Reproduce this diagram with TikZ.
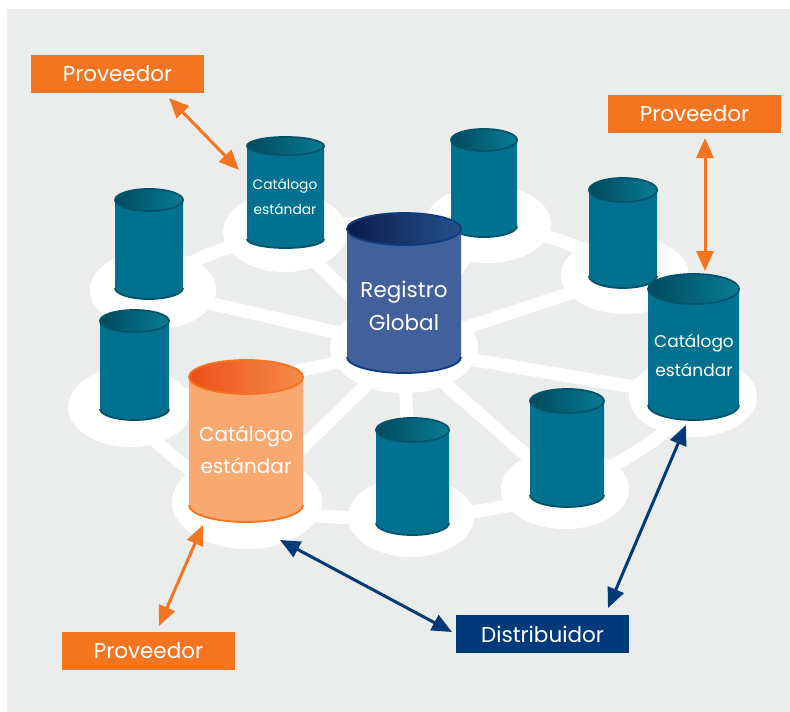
\documentclass[tikz,border=0pt]{standalone}
\usepackage{fontspec}
\setmainfont{Poppins}
\usetikzlibrary{arrows.meta}
\definecolor{bg}{HTML}{EBECEC}
\definecolor{orbox}{HTML}{F47521}
\definecolor{navy}{HTML}{003A78}
\definecolor{tealbody}{HTML}{00728F}
\definecolor{tealtl}{HTML}{004A5E}
\definecolor{tealtr}{HTML}{087C94}
\definecolor{tealedge}{HTML}{00546A}
\definecolor{regbody}{HTML}{42609A}
\definecolor{regtl}{HTML}{0A1C4A}
\definecolor{regtr}{HTML}{25518D}
\definecolor{regedge}{HTML}{0D3C7F}
\definecolor{orbody}{HTML}{F9A870}
\definecolor{ortl}{HTML}{EE4F1A}
\definecolor{ortr}{HTML}{F48C4A}
\definecolor{oredge}{HTML}{F47521}
% #1 x1, #2 x2, #3 top centre y, #4 bottom centre y, #5 ry, #6 body, #7 top left, #8 top right, #9 edge
\newcommand\dbcyl[9]{%
  \fill[#6] (#1,#3) -- (#1,#4) arc[start angle=180,end angle=0,x radius={(#2-#1)/2},y radius=#5] -- (#2,#3) -- cycle;
  \draw[#9,line width=1.8pt] (#1,#4) arc[start angle=180,end angle=0,x radius={(#2-#1)/2},y radius=#5];
  \draw[#9,line width=1.8pt,left color=#7,right color=#8] ({(#1+#2)/2},#3) ellipse[x radius={(#2-#1)/2},y radius=#5];
}
\begin{document}
\begin{tikzpicture}[x=1pt,y=-1pt,
  netline/.style={white,line width=13pt},
  disc/.style={fill=white},
  boxtext/.style={text=white,minimum width=173pt,minimum height=38pt,inner sep=0pt,font=\fontsize{21.5}{24}\selectfont},
  provbox/.style={boxtext,fill=orbox},
  distbox/.style={boxtext,fill=navy},
  cyltext/.style={text=white,align=center,inner sep=0pt},
  orarrow/.style={draw=orbox,line width=3pt,{Triangle[length=20pt,width=17pt]}-{Triangle[length=20pt,width=17pt]}},
  navarrow/.style={draw=navy,line width=3pt,{Triangle[length=20pt,width=17pt]}-{Triangle[length=20pt,width=17pt]}}
]
\useasboundingbox (0,0) rectangle (790,712);
\fill[bg] (7,9) rectangle (790,712);
% disc centres
\coordinate (d1) at (285,232);
\coordinate (d2) at (153,290);
\coordinate (d3) at (130,407);
\coordinate (d4) at (247,502);
\coordinate (d5) at (404,348);
\coordinate (d6) at (488,224);
\coordinate (d7) at (625,275);
\coordinate (d8) at (693,397);
\coordinate (d9) at (565,489);
\coordinate (d10) at (411,517);
% network
\draw[netline] plot[smooth cycle,tension=0.55] coordinates {(d1) (d6) (d7) (d8) (d9) (d10) (d4) (d3) (d2)};
\foreach \d in {d1,d2,d3,d4,d6,d7,d8,d9,d10} \draw[netline] (d5) -- (\d);
\fill[disc] (d1) ellipse[x radius=62,y radius=40];
\fill[disc] (d2) ellipse[x radius=63,y radius=40];
\fill[disc] (d3) ellipse[x radius=62,y radius=40];
\fill[disc] (d4) ellipse[x radius=75,y radius=47];
\fill[disc] (d5) ellipse[x radius=74,y radius=45];
\fill[disc] (d6) ellipse[x radius=63,y radius=39];
\fill[disc] (d7) ellipse[x radius=64,y radius=39];
\fill[disc] (d8) ellipse[x radius=64,y radius=40];
\fill[disc] (d9) ellipse[x radius=64,y radius=40];
\fill[disc] (d10) ellipse[x radius=63,y radius=40];
% cylinders
\dbcyl{451}{517}{140}{226}{11}{tealbody}{tealtl}{tealtr}{tealedge}
\dbcyl{247}{324}{146}{239}{9}{tealbody}{tealtl}{tealtr}{tealedge}
\dbcyl{115}{183}{200}{288}{11}{tealbody}{tealtl}{tealtr}{tealedge}
\dbcyl{589}{657}{190}{276}{12}{tealbody}{tealtl}{tealtr}{tealedge}
\dbcyl{347}{461}{229}{357}{16}{regbody}{regtl}{regtr}{regedge}
\dbcyl{100}{169}{321}{409}{11}{tealbody}{tealtl}{tealtr}{tealedge}
\dbcyl{648}{739}{289}{405}{15}{tealbody}{tealtl}{tealtr}{tealedge}
\dbcyl{189}{303}{377}{505}{17}{orbody}{ortl}{ortr}{oredge}
\dbcyl{530}{604}{401}{495}{12}{tealbody}{tealtl}{tealtr}{tealedge}
\dbcyl{376}{449}{430}{523}{12}{tealbody}{tealtl}{tealtr}{tealedge}
% cylinder labels
\node[cyltext,font=\fontsize{13.8}{25}\selectfont] (cat1) at (285,197) {Catálogo\\estándar};
\node[cyltext,font=\fontsize{21.5}{33}\selectfont] (reg) at (404,306) {Registro\\Global};
\node[cyltext,font=\fontsize{17}{29}\selectfont] (cat2) at (694,355) {Catálogo\\estándar};
\node[cyltext,font=\fontsize{20}{32}\selectfont] (cat3) at (246,450) {Catálogo\\estándar};
% boxes
\node[provbox] (prov1) at (117.5,74) {Proveedor};
\node[provbox] (prov2) at (694.5,114) {Proveedor};
\node[provbox] (prov3) at (148.5,651) {Proveedor};
\node[distbox] (dist) at (542.5,634) {Distribuidor};
% arrow ends
\coordinate (a1s) at (169,98);  \coordinate (a1e) at (239,170);
\coordinate (a2s) at (705,138); \coordinate (a2e) at (705,271);
\coordinate (a3s) at (159,626); \coordinate (a3e) at (203,525);
\coordinate (a4s) at (452,632); \coordinate (a4e) at (280,540);
\coordinate (a5s) at (608,608); \coordinate (a5e) at (686,425);
\draw[orarrow] (a1s) -- (a1e);
\draw[orarrow] (a2s) -- (a2e);
\draw[orarrow] (a3s) -- (a3e);
\draw[navarrow] (a4s) -- (a4e);
\draw[navarrow] (a5s) -- (a5e);
\end{tikzpicture}
\end{document}
